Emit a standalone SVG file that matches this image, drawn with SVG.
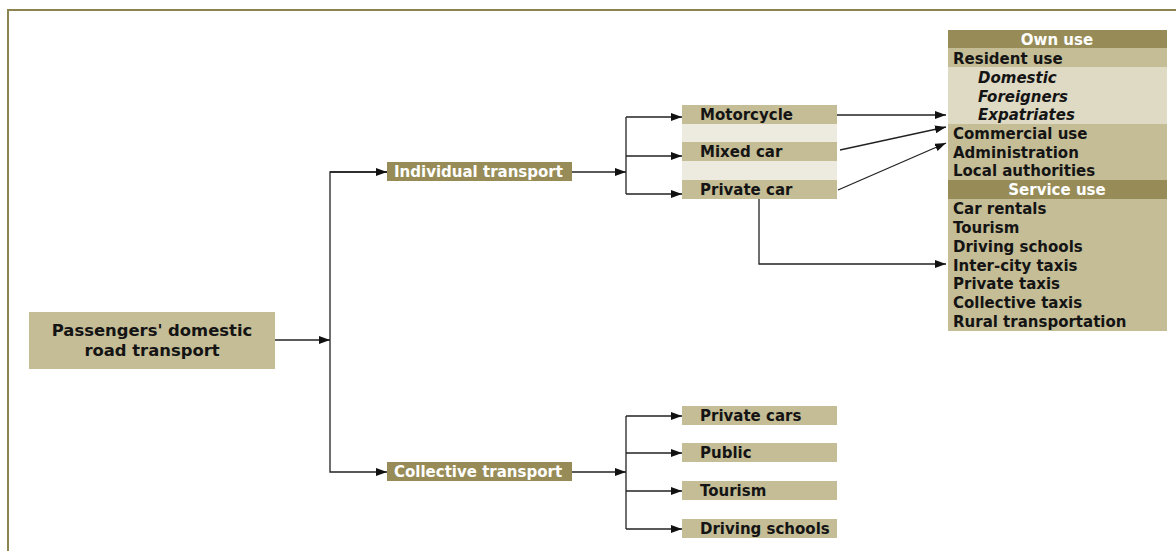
<svg xmlns="http://www.w3.org/2000/svg" width="1176" height="551" viewBox="0 0 1176 551">
<defs>
<marker id="arr" viewBox="0 0 11 8" refX="11" refY="4" markerWidth="11" markerHeight="8" markerUnits="userSpaceOnUse" orient="auto">
<path d="M0,0 L11,4 L0,8 Z" fill="#111"/>
</marker>
<style>
.t{font-family:"DejaVu Sans",Verdana,sans-serif;font-weight:bold;font-size:15px;fill:#141414;}
.w{fill:#ffffff;font-size:15px;}
.i{font-style:italic;}
.dark{fill:#978C57;}
.med{fill:#C5BD96;}
.light{fill:#DEDAC4;}
.strip{fill:#EDEAE0;}
.c{fill:none;stroke:#222;stroke-width:1.3;}
</style>
</defs>
<rect width="1176" height="551" fill="#fff"/>
<path d="M8,551 L8,10 L1176,10" fill="none" stroke="#8C8450" stroke-width="2"/>

<g id="connectors">
<path class="c" d="M275,340 L330,340" marker-end="url(#arr)"/>
<path class="c" d="M387,172 L330,172 L330,472 L387,472" marker-end="url(#arr)"/>
<path class="c" d="M330,172 L387,172" marker-end="url(#arr)"/>
<path class="c" d="M572,172 L626,172" marker-end="url(#arr)"/>
<path class="c" d="M626,117 L626,194"/>
<path class="c" d="M626,117 L682,117" marker-end="url(#arr)"/>
<path class="c" d="M626,156 L682,156" marker-end="url(#arr)"/>
<path class="c" d="M626,194 L682,194" marker-end="url(#arr)"/>
<path class="c" d="M572,472 L626,472" marker-end="url(#arr)"/>
<path class="c" d="M626,416 L626,529"/>
<path class="c" d="M626,416 L682,416" marker-end="url(#arr)"/>
<path class="c" d="M626,453 L682,453" marker-end="url(#arr)"/>
<path class="c" d="M626,491 L682,491" marker-end="url(#arr)"/>
<path class="c" d="M626,529 L682,529" marker-end="url(#arr)"/>
<path class="c" d="M837,115 L946,115" marker-end="url(#arr)"/>
<path class="c" d="M840,150 L946,127" marker-end="url(#arr)"/>
<path class="c" d="M838,190 L946,143" marker-end="url(#arr)"/>
<path class="c" d="M759,199 L759,264 L946,264" marker-end="url(#arr)"/>
</g>

<g id="root">
<rect class="med" x="29" y="312" width="246" height="57"/>
<text class="t" x="152" y="336" text-anchor="middle" style="font-size:16.4px">Passengers' domestic</text>
<text class="t" x="152" y="356" text-anchor="middle" style="font-size:16.4px">road transport</text>
</g>

<g id="individual">
<rect class="dark" x="387" y="162" width="185" height="19"/>
<text class="t w" x="394" y="177">Individual transport</text>
</g>

<g id="collective">
<rect class="dark" x="387" y="462" width="185" height="19"/>
<text class="t w" x="394" y="477">Collective transport</text>
</g>

<g id="vehicles">
<rect class="strip" x="682" y="124" width="155" height="18"/>
<rect class="strip" x="682" y="161" width="155" height="19"/>
<g id="motorcycle"><rect class="med" x="682" y="105" width="155" height="19"/><text class="t" x="700" y="120">Motorcycle</text></g>
<g id="mixed-car"><rect class="med" x="682" y="142" width="155" height="19"/><text class="t" x="700" y="157">Mixed car</text></g>
<g id="private-car"><rect class="med" x="682" y="180" width="155" height="19"/><text class="t" x="700" y="195">Private car</text></g>
</g>

<g id="private-cars"><rect class="med" x="682" y="406" width="155" height="19"/><text class="t" x="700" y="421">Private cars</text></g>
<g id="public"><rect class="med" x="682" y="443" width="155" height="19"/><text class="t" x="700" y="458">Public</text></g>
<g id="tourism"><rect class="med" x="682" y="481" width="155" height="19"/><text class="t" x="700" y="496">Tourism</text></g>
<g id="driving-schools"><rect class="med" x="682" y="519" width="155" height="19"/><text class="t" x="700" y="534">Driving schools</text></g>

<g id="uses-table">
<rect class="dark" x="948" y="30" width="219" height="18"/>
<rect class="med" x="948" y="48" width="219" height="19"/>
<rect class="light" x="948" y="67" width="219" height="57"/>
<rect class="med" x="948" y="124" width="219" height="56"/>
<rect class="dark" x="948" y="180" width="219" height="19"/>
<rect class="med" x="948" y="199" width="219" height="132"/>
<text class="t w" x="1057" y="45" text-anchor="middle">Own use</text>
<text class="t" x="953" y="64">Resident use</text>
<text class="t i" x="978" y="83">Domestic</text>
<text class="t i" x="978" y="102">Foreigners</text>
<text class="t i" x="978" y="120">Expatriates</text>
<text class="t" x="953" y="139">Commercial use</text>
<text class="t" x="953" y="158">Administration</text>
<text class="t" x="953" y="176">Local authorities</text>
<text class="t w" x="1057" y="195" text-anchor="middle">Service use</text>
<text class="t" x="953" y="214">Car rentals</text>
<text class="t" x="953" y="233">Tourism</text>
<text class="t" x="953" y="252">Driving schools</text>
<text class="t" x="953" y="271">Inter-city taxis</text>
<text class="t" x="953" y="289">Private taxis</text>
<text class="t" x="953" y="308">Collective taxis</text>
<text class="t" x="953" y="327">Rural transportation</text>
</g>
</svg>
